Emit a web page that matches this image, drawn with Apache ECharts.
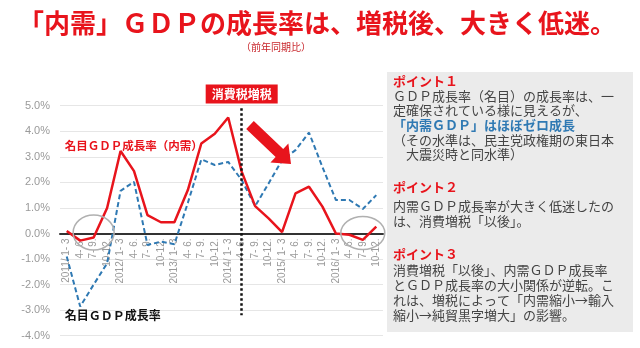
<!DOCTYPE html>
<html>
<head>
<meta charset="utf-8">
<script src="https://cdn.jsdelivr.net/npm/echarts@6/dist/echarts.min.js"></script>
<style>
  html, body { margin: 0; padding: 0; background: #ffffff; }
  #chart { width: 640px; height: 348px; }
</style>
</head>
<body>
<div id="chart"></div>
<script>
// Quarterly labels, 2011 Q1 – 2016 Q4
const quarters = [
  '2011/ 1- 3', '4- 6.', '7- 9.', '10-12.',
  '2012/ 1- 3', '4- 6.', '7- 9.', '10-12.',
  '2013/ 1- 3', '4- 6.', '7- 9.', '10-12.',
  '2014/ 1- 3', '4- 6.', '7- 9.', '10-12.',
  '2015/ 1- 3', '4- 6.', '7- 9.', '10-12.',
  '2016/ 1- 3', '4- 6.', '7- 9.', '10-12.'
];

// Nominal GDP growth, domestic demand contribution (%, year on year)
const domesticDemandGrowth = [
  0.10, -0.28, -0.16, 1.00,
  3.23, 2.44, 0.72, 0.44,
  0.44, 1.70, 3.52, 3.90,
  4.54, 2.42, 1.07, 0.59,
  0.05, 1.57, 1.83, 1.05,
  0.00, -0.05, -0.25, 0.27
];

// Nominal GDP growth (%, year on year)
const nominalGdpGrowth = [
  -0.90, -2.86, -2.00, -1.17,
  1.67, 2.02, -0.45, -0.32,
  -0.42, 1.20, 2.90, 2.68,
  2.80, 2.09, 1.07, 1.96,
  2.87, 3.26, 3.95, 2.60,
  1.31, 1.31, 0.96, 1.50
];

// Value axis range and step
const yMin = -4;
const yMax = 5;
const yStep = 1;

// Quarter in which the consumption tax was raised (2014 Apr–Jun)
const taxHikeIndex = 13;

const RED = '#e8141c';
const BLUE = '#2f79b3';
const JP = '"Noto Sans CJK JP", sans-serif';

const GRID_TOP = 105.7;
const GRID_BOTTOM = 12.3;
const GRID_H = 348 - GRID_TOP - GRID_BOTTOM;
// Lift the category axis from the bottom edge up to the zero line
const zeroOffset = -GRID_H * (0 - yMin) / (yMax - yMin);

const chart = echarts.init(document.getElementById('chart'), null, { renderer: 'canvas' });

chart.setOption({
  animation: false,
  backgroundColor: '#ffffff',
  grid: {
    left: 60, right: 257, top: GRID_TOP, bottom: GRID_BOTTOM,
    containLabel: false, outerBoundsMode: 'none'
  },
  xAxis: {
    type: 'category',
    data: quarters,
    boundaryGap: true,
    offset: zeroOffset,
    axisLine: { show: true, onZero: false, lineStyle: { color: '#333333', width: 2 } },
    axisTick: { show: false },
    axisLabel: {
      interval: 0,
      rotate: 90,
      margin: 5,
      color: '#9a9a9a',
      fontSize: 10,
      fontFamily: '"Liberation Sans", Arial, sans-serif'
    },
    splitLine: { show: false }
  },
  yAxis: {
    type: 'value',
    min: yMin,
    max: yMax,
    interval: yStep,
    axisLine: { show: false },
    axisTick: { show: false },
    axisLabel: {
      margin: 10,
      color: '#9a9a9a',
      fontSize: 11,
      fontFamily: '"Liberation Sans", Arial, sans-serif',
      formatter: v => v.toFixed(1) + '%'
    },
    splitLine: { lineStyle: { color: '#e6e6e6', width: 1 } }
  },
  series: [
    {
      name: '名目ＧＤＰ成長率（内需）',
      type: 'line',
      data: domesticDemandGrowth,
      symbol: 'none',
      z: 4,
      lineStyle: { color: RED, width: 2.5 },
      markLine: {
        silent: true,
        symbol: 'none',
        label: { show: false },
        lineStyle: { color: '#111111', type: [2.5, 2.5], width: 2.5 },
        data: [[{ coord: [taxHikeIndex, 4.9] }, { coord: [taxHikeIndex, -3.2] }]]
      }
    },
    {
      name: '名目ＧＤＰ成長率',
      type: 'line',
      data: nominalGdpGrowth,
      symbol: 'none',
      z: 3,
      lineStyle: { color: BLUE, width: 2, type: [5, 3] }
    }
  ]
});

// Helpers to place annotations against the axes
const px = (i, v) => chart.convertToPixel({ gridIndex: 0 }, [i, v]);

// Arrow pointing down-right after the tax hike
function arrowPoints(x0, y0, x1, y1, shaftHalf, headHalf, headLen) {
  const dx = x1 - x0, dy = y1 - y0;
  const len = Math.hypot(dx, dy);
  const ux = dx / len, uy = dy / len;
  const nx = -uy, ny = ux;
  const local = [
    [0, -shaftHalf], [len - headLen, -shaftHalf], [len - headLen, -headHalf],
    [len, 0], [len - headLen, headHalf], [len - headLen, shaftHalf], [0, shaftHalf]
  ];
  return local.map(([a, b]) => [x0 + ux * a + nx * b, y0 + uy * a + ny * b]);
}

const circleA = px(1.5, 0);
const circleB = px(22, 0);
const lineTop = px(taxHikeIndex, 4.9);
const redLabelPos = px(0, 3.45);
const blueLabelPos = px(0, -3.22);

const panelLines = [
  { t: 'ポイント１', y: 81, c: RED, w: 'bold' },
  { t: 'ＧＤＰ成長率（名目）の成長率は、一', y: 96, c: '#444444' },
  { t: '定確保されている様に見えるが、', y: 110, c: '#444444' },
  { t: '「内需ＧＤＰ」はほぼゼロ成長', y: 125, c: BLUE, w: 'bold' },
  { t: '（その水準は、民主党政権期の東日本', y: 140, c: '#444444' },
  { t: '　大震災時と同水準）', y: 154, c: '#444444' },
  { t: 'ポイント２', y: 187, c: RED, w: 'bold' },
  { t: '内需ＧＤＰ成長率が大きく低迷したの', y: 206, c: '#444444' },
  { t: 'は、消費増税「以後」。', y: 221, c: '#444444' },
  { t: 'ポイント３', y: 254, c: RED, w: 'bold' },
  { t: '消費増税「以後」、内需ＧＤＰ成長率', y: 270, c: '#444444' },
  { t: 'とＧＤＰ成長率の大小関係が逆転。こ', y: 285, c: '#444444' },
  { t: 'れは、増税によって「内需縮小→輸入', y: 300, c: '#444444' },
  { t: '縮小→純貿黒字増大」の影響。', y: 315, c: '#444444' }
];

const graphics = [
  {
    type: 'text', x: 317, y: 23, z: 10,
    style: {
      text: '「内需」ＧＤＰの成長率は、増税後、大きく低迷。',
      fill: RED, font: 'bold 26px ' + JP, align: 'center', verticalAlign: 'middle'
    }
  },
  {
    type: 'text', x: 276, y: 47, z: 10,
    style: {
      text: '（前年同期比）', fill: '#c8252b', font: '10px ' + JP,
      align: 'center', verticalAlign: 'middle'
    }
  },
  {
    type: 'rect', z: 5,
    shape: { x: 387, y: 72, width: 246, height: 260 },
    style: { fill: '#ebebeb' }
  },
  {
    type: 'text', x: lineTop[0], y: 94, z: 10,
    style: {
      text: '消費税増税', fill: '#ffffff', font: 'bold 12px ' + JP,
      align: 'center', verticalAlign: 'middle',
      backgroundColor: RED, padding: [4, 6, 3, 6]
    }
  },
  {
    type: 'polygon', z: 10,
    shape: { points: arrowPoints(250, 125, 291, 164, 5.5, 13, 16) },
    style: { fill: RED }
  },
  {
    type: 'ellipse', z: 6,
    shape: { cx: circleA[0], cy: circleA[1] - 1, rx: 20.5, ry: 17.5 },
    style: { fill: 'none', stroke: '#b0b0b0', lineWidth: 1.5 }
  },
  {
    type: 'ellipse', z: 6,
    shape: { cx: circleB[0], cy: circleB[1] - 0.5, rx: 22, ry: 16.5 },
    style: { fill: 'none', stroke: '#b0b0b0', lineWidth: 1.5 }
  },
  {
    type: 'text', x: redLabelPos[0] - 2, y: redLabelPos[1], z: 10,
    style: {
      text: '名目ＧＤＰ成長率（内需）', fill: RED, font: 'bold 11.5px ' + JP,
      align: 'left', verticalAlign: 'middle'
    }
  },
  {
    type: 'text', x: blueLabelPos[0] - 2, y: blueLabelPos[1], z: 10,
    style: {
      text: '名目ＧＤＰ成長率', fill: '#111111', font: 'bold 12px ' + JP,
      align: 'left', verticalAlign: 'middle'
    }
  }
];

panelLines.forEach(l => {
  graphics.push({
    type: 'text', x: 393, y: l.y, z: 10,
    style: {
      text: l.t, fill: l.c, font: (l.w || 'normal') + ' 13px ' + JP,
      align: 'left', verticalAlign: 'middle'
    }
  });
});

chart.setOption({ graphic: graphics });
</script>
</body>
</html>
